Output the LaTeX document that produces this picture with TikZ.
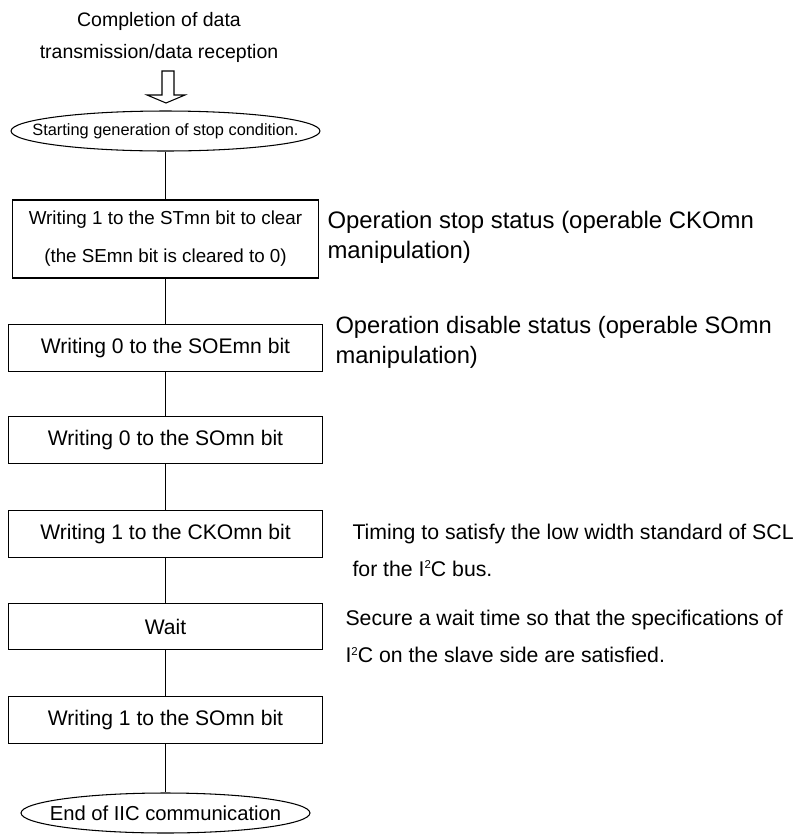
\documentclass[tikz,border=0pt]{standalone}
\usepackage{fontspec}
\setmainfont{Liberation Sans}
\usetikzlibrary{shapes.geometric}
\newcommand{\iic}{I\raisebox{.34em}{\fontsize{6.5}{7}\selectfont 2}C}
\begin{document}
\begin{tikzpicture}[x=.02cm,y=-.02cm, line width=.6pt,
  every node/.style={font=\fontsize{12}{14}\selectfont},
  stepbox/.style={draw, minimum width=6.3cm, minimum height=.93cm, inner sep=0pt},
  endcap/.style={draw, ellipse, inner sep=0pt, minimum height=.8cm},
  remark/.style={anchor=west, align=left, inner sep=0pt}]
  \useasboundingbox (0,0) rectangle (798,836);
  % start of the flow
  \node[align=center, font=\fontsize{11.1}{18.4}\selectfont] (begin) at (159,37.5)
    {Completion of data\\transmission/data reception};
  \draw (162,71) -- (174,71) -- (174,95) -- (185,95) -- (166,103) -- (147,95) -- (162,95) -- cycle;
  \node[endcap, minimum width=6.18cm, font=\fontsize{9.3}{11}\selectfont] (stopgen) at (165.5,131)
    {\makebox[0pt]{Starting generation of stop condition.}};
  % steps
  \node[stepbox, minimum width=6.14cm, minimum height=1.56cm, align=center,
        font=\fontsize{10.7}{21.6}\selectfont] (stclr) at (165.5,239)
    {Writing 1 to the STmn bit to clear\\(the SEmn bit is cleared to 0)};
  \node[stepbox] (soeclr) at (165.5,348) {Writing 0 to the SOEmn bit};
  \node[stepbox] (soclr) at (165.5,440) {Writing 0 to the SOmn bit};
  \node[stepbox] (ckoset) at (165.5,534) {Writing 1 to the CKOmn bit};
  \node[stepbox] (wait) at (165.5,626.5) {Wait};
  \node[stepbox] (soset) at (165.5,720) {Writing 1 to the SOmn bit};
  \node[endcap, minimum width=5.78cm, font=\fontsize{11.5}{14}\selectfont] (iicend) at (165.5,813)
    {\makebox[0pt]{End of IIC communication}};
  \foreach \a/\b in {stopgen/stclr, stclr/soeclr, soeclr/soclr, soclr/ckoset,
                     ckoset/wait, wait/soset, soset/iicend}
    \draw (\a) -- (\b);
  % remarks on the right
  \node[remark, font=\fontsize{13.6}{17}\selectfont] (stopnote) at (327,237)
    {Operation stop status (operable CKOmn\\manipulation)};
  \node[remark, font=\fontsize{13.5}{17}\selectfont] (disnote) at (335,342.5)
    {Operation disable status (operable SOmn\\manipulation)};
  \node[remark, font=\fontsize{12.1}{21}\selectfont] (sclnote) at (352,550)
    {Timing to satisfy the low width standard of SCL\\for the \iic{} bus.};
  \node[remark, font=\fontsize{12.1}{21}\selectfont] (waitnote) at (345,636.5)
    {Secure a wait time so that the specifications of\\\iic{} on the slave side are satisfied.};
\end{tikzpicture}
\end{document}
